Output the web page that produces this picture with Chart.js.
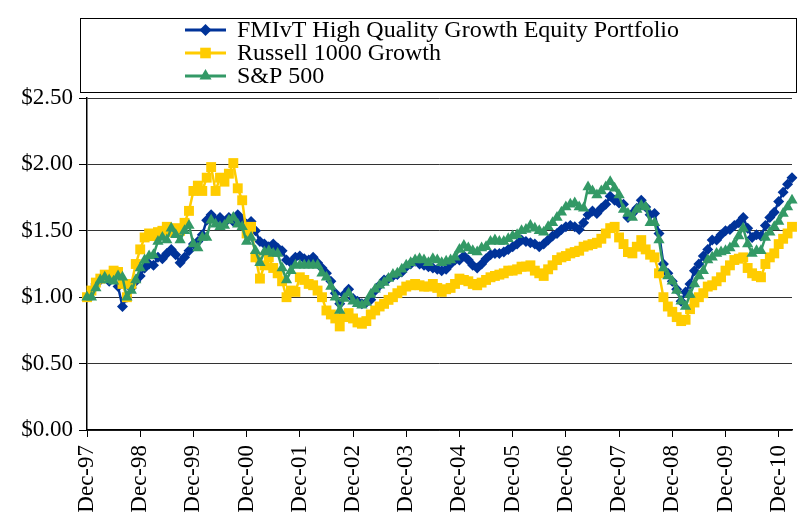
<!DOCTYPE html>
<html>
<head>
<meta charset="utf-8">
<script src="https://cdn.jsdelivr.net/npm/chart.js@4"></script>
<style>
  html, body { margin: 0; padding: 0; background: #fff; }
  #wrap { width: 799px; height: 519px; position: relative; }
</style>
</head>
<body>
<div id="wrap"><canvas id="growthChart"></canvas></div>
<script>
// ===== Data (monthly, Dec-97 .. Mar-11, growth of $1) =====
const monthNames = ['Jan', 'Feb', 'Mar', 'Apr', 'May', 'Jun', 'Jul', 'Aug', 'Sep', 'Oct', 'Nov', 'Dec'];
const categories = [];
for (let i = 0; i < 160; i++) {
  const m = (11 + i) % 12;
  const yr = (97 + Math.floor((11 + i) / 12)) % 100;
  categories.push(monthNames[m] + '-' + String(yr).padStart(2, '0'));
}

const seriesNames = ['FMIvT High Quality Growth Equity Portfolio', 'Russell 1000 Growth', 'S&P 500'];

const fmivt = [
  1.00, 1.05, 1.10, 1.13, 1.15, 1.12, 1.15, 1.08, 0.93, 1.00, 1.07, 1.12,
  1.16, 1.22, 1.25, 1.24, 1.30, 1.29, 1.33, 1.36, 1.32, 1.26, 1.30, 1.35,
  1.40, 1.42, 1.47, 1.58, 1.62, 1.58, 1.60, 1.56, 1.60, 1.57, 1.62, 1.58,
  1.55, 1.57, 1.50, 1.42, 1.40, 1.38, 1.40, 1.37, 1.35, 1.28, 1.26, 1.30,
  1.31, 1.29, 1.28, 1.30, 1.26, 1.22, 1.18, 1.12, 1.03, 0.95, 1.02, 1.06,
  0.99, 0.97, 0.95, 0.96, 0.98, 1.05, 1.09, 1.13, 1.14, 1.16, 1.17, 1.19,
  1.23, 1.25, 1.27, 1.25, 1.24, 1.23, 1.22, 1.21, 1.20, 1.21, 1.25, 1.28,
  1.28, 1.31, 1.28, 1.24, 1.22, 1.25, 1.29, 1.32, 1.33, 1.33, 1.34, 1.36,
  1.38, 1.40, 1.43, 1.42, 1.41, 1.40, 1.38, 1.40, 1.43, 1.46, 1.48, 1.51,
  1.53, 1.54, 1.53, 1.51, 1.56, 1.62, 1.65, 1.63, 1.67, 1.70, 1.76, 1.73,
  1.71, 1.70, 1.60, 1.63, 1.67, 1.73, 1.68, 1.62, 1.63, 1.48, 1.25, 1.18,
  1.12, 1.06, 0.97, 1.04, 1.10, 1.20, 1.25, 1.31, 1.36, 1.43, 1.43, 1.47,
  1.50, 1.51, 1.54, 1.56, 1.60, 1.52, 1.45, 1.47, 1.46, 1.54, 1.60, 1.64,
  1.72, 1.79, 1.85, 1.90
];

const russell = [
  1.00, 1.05, 1.11, 1.14, 1.17, 1.15, 1.20, 1.19, 1.10, 1.00, 1.10, 1.25,
  1.36, 1.45, 1.48, 1.46, 1.49, 1.50, 1.53, 1.49, 1.52, 1.50, 1.56, 1.65,
  1.80, 1.84, 1.80, 1.90, 1.98, 1.80, 1.90, 1.87, 1.93, 2.01, 1.82, 1.73,
  1.48, 1.53, 1.30, 1.14, 1.24, 1.30, 1.22, 1.18, 1.12, 1.00, 1.05, 1.04,
  1.15, 1.13, 1.10, 1.09, 1.05, 1.00, 0.90, 0.87, 0.84, 0.78, 0.85, 0.88,
  0.84, 0.81, 0.80, 0.82, 0.87, 0.90, 0.93, 0.95, 0.98, 1.00, 1.03, 1.05,
  1.08, 1.09, 1.10, 1.09, 1.08, 1.08, 1.10, 1.07, 1.04, 1.06, 1.07, 1.10,
  1.14, 1.13, 1.12, 1.10, 1.09, 1.11, 1.13, 1.15, 1.16, 1.17, 1.18, 1.20,
  1.20, 1.21, 1.23, 1.23, 1.24, 1.20, 1.18, 1.16, 1.21, 1.24, 1.28, 1.30,
  1.31, 1.33, 1.34, 1.35, 1.38, 1.39, 1.40, 1.41, 1.44, 1.48, 1.52, 1.53,
  1.45, 1.40, 1.34, 1.33, 1.38, 1.43, 1.36, 1.32, 1.30, 1.18, 1.00, 0.93,
  0.89, 0.85, 0.82, 0.83, 0.91, 0.96, 1.00, 1.03, 1.08, 1.09, 1.12, 1.15,
  1.20, 1.24, 1.28, 1.29, 1.30, 1.22, 1.18, 1.16, 1.15, 1.25, 1.30, 1.33,
  1.40, 1.44, 1.48, 1.53
];

const sp500 = [
  1.00, 1.00, 1.07, 1.13, 1.15, 1.13, 1.12, 1.16, 1.15, 1.00, 1.05, 1.13,
  1.22, 1.28, 1.31, 1.32, 1.42, 1.45, 1.43, 1.52, 1.47, 1.43, 1.50, 1.54,
  1.40, 1.37, 1.45, 1.45, 1.58, 1.55, 1.53, 1.54, 1.58, 1.60, 1.55, 1.53,
  1.42, 1.45, 1.35, 1.26, 1.34, 1.35, 1.33, 1.33, 1.22, 1.13, 1.20, 1.24,
  1.24, 1.24, 1.24, 1.24, 1.24, 1.18, 1.15, 1.08, 1.00, 0.90, 0.99, 1.03,
  0.97, 0.95, 0.94, 0.96, 1.02, 1.06, 1.09, 1.11, 1.14, 1.17, 1.18, 1.21,
  1.24, 1.26, 1.28, 1.29, 1.28, 1.26, 1.29, 1.28, 1.26, 1.27, 1.28, 1.30,
  1.36, 1.39, 1.37, 1.35, 1.34, 1.37, 1.38, 1.42, 1.43, 1.42, 1.42, 1.44,
  1.46, 1.47, 1.50, 1.51, 1.54, 1.52, 1.50, 1.49, 1.53, 1.56, 1.60, 1.64,
  1.68, 1.70, 1.71, 1.68, 1.67, 1.83, 1.80, 1.77, 1.80, 1.83, 1.87, 1.82,
  1.77, 1.66, 1.63, 1.60, 1.66, 1.69, 1.68, 1.56, 1.56, 1.43, 1.22, 1.16,
  1.12, 1.05, 0.97, 0.93, 1.02, 1.10, 1.16, 1.20, 1.28, 1.30, 1.33, 1.34,
  1.35, 1.37, 1.40, 1.46, 1.52, 1.40, 1.33, 1.35, 1.35, 1.45, 1.49, 1.53,
  1.57, 1.63, 1.68, 1.73
];

const yTicks = [0, 0.5, 1.0, 1.5, 2.0, 2.5];

const colors = ['#003399', '#ffcc00', '#339966'];
const markers = ['rectRot', 'rect', 'triangle'];
const markerSizes = [5.5, 7, 6.5];

const serif = '"Liberation Serif", "Times New Roman", serif';

// ===== Boxed legend drawn on top of the canvas =====
function drawMarker(ctx, style, x, y, r) {
  ctx.beginPath();
  if (style === 'rectRot') {
    ctx.moveTo(x, y - r); ctx.lineTo(x + r, y); ctx.lineTo(x, y + r); ctx.lineTo(x - r, y);
  } else if (style === 'rect') {
    const s = r * Math.SQRT1_2;
    ctx.rect(x - s, y - s, 2 * s, 2 * s);
  } else {
    ctx.moveTo(x, y - r); ctx.lineTo(x + r * 0.866, y + r * 0.5); ctx.lineTo(x - r * 0.866, y + r * 0.5);
  }
  ctx.closePath();
  ctx.fill();
}

const boxLegend = {
  id: 'boxLegend',
  afterDraw(chart) {
    const ctx = chart.ctx;
    ctx.save();
    ctx.strokeStyle = '#000';
    ctx.lineWidth = 1;
    ctx.strokeRect(80.5, 18.5, 716, 74);
    ctx.font = '24px ' + serif;
    ctx.textBaseline = 'middle';
    chart.data.datasets.forEach((ds, i) => {
      const y = 30 + i * 23;
      ctx.strokeStyle = ds.borderColor;
      ctx.lineWidth = 3;
      ctx.beginPath();
      ctx.moveTo(185, y);
      ctx.lineTo(226, y);
      ctx.stroke();
      ctx.fillStyle = ds.borderColor;
      drawMarker(ctx, markers[i], 205.5, y, markerSizes[i] + 0.5);
      ctx.fillStyle = '#000';
      ctx.fillText(ds.label, 237, y + 1);
    });
    ctx.restore();
  }
};

function makeDataset(i, values, order) {
  return {
    label: seriesNames[i],
    data: values,
    borderColor: colors[i],
    backgroundColor: colors[i],
    borderWidth: 2.5,
    pointStyle: markers[i],
    pointRadius: markerSizes[i],
    pointBorderWidth: 0,
    pointBackgroundColor: colors[i],
    tension: 0,
    order: order
  };
}

document.addEventListener('DOMContentLoaded', () => {
  const ctx = document.getElementById('growthChart').getContext('2d');
  new Chart(ctx, {
    type: 'line',
    data: {
      labels: categories,
      datasets: [
        makeDataset(0, fmivt, 3),
        makeDataset(1, russell, 2),
        makeDataset(2, sp500, 1)  // S&P drawn last (on top)
      ]
    },
    options: {
      responsive: true,
      maintainAspectRatio: false,
      animation: false,
      layout: { padding: { top: 98, left: 0, right: 1, bottom: 0 } },
      plugins: {
        legend: { display: false },
        tooltip: { enabled: false }
      },
      scales: {
        x: {
          type: 'category',
          offset: false,
          grid: {
            drawOnChartArea: false,
            drawTicks: true,
            tickLength: 7,
            color: '#000'
          },
          border: { display: true, color: '#000', width: 1.5 },
          ticks: {
            autoSkip: false,
            maxRotation: 90,
            minRotation: 90,
            padding: 8,
            color: '#000',
            font: { family: serif, size: 23 },
            callback(value, index) {
              const lab = categories[index];
              return lab.startsWith('Dec') ? lab : null;
            }
          },
          afterFit(scale) {
            scale.height = 89;
            scale.paddingLeft = 0;
            scale.paddingRight = 0;
          }
        },
        y: {
          min: 0,
          max: 2.5,
          afterBuildTicks(scale) { scale.ticks = yTicks.map(v => ({ value: v })); },
          grid: {
            color: '#333',
            lineWidth: 1,
            drawTicks: true,
            tickLength: 8,
            tickColor: '#000'
          },
          border: { display: true, color: '#000', width: 1.5 },
          ticks: {
            padding: 6,
            color: '#000',
            font: { family: serif, size: 23 },
            callback(value) { return '$' + Number(value).toFixed(2); }
          },
          afterFit(scale) { scale.width = 87; }
        }
      }
    },
    plugins: [boxLegend]
  });
});
</script>
</body>
</html>
